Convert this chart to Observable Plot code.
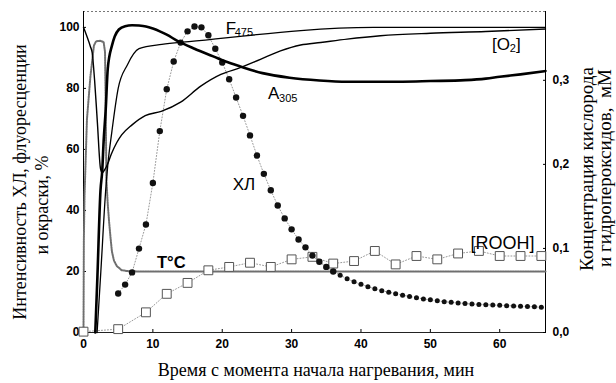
<!DOCTYPE html>
<html><head><meta charset="utf-8">
<script src="https://cdn.jsdelivr.net/npm/d3@7"></script>
<script src="https://cdn.jsdelivr.net/npm/@observablehq/plot@0.6"></script>
<style>html,body{margin:0;padding:0;background:#fff;}</style>
</head><body><div id="chart"></div>
<script>
// ---- Data (time in min) ----
// Temperature curve (left axis units)
const tempT = [0, 0.05, 0.15, 0.5, 1.0, 1.5, 1.8, 2.4, 2.9, 3.1, 3.2, 3.3, 3.5, 3.7, 3.9, 4.1, 4.4, 4.8, 5.5, 6.5, 8, 66.6];
const tempV = [0, 30, 45, 70, 84, 94, 95.4, 95.6, 95.2, 92, 75, 50, 42, 36, 31, 26.5, 23.5, 21.8, 20.4, 20.1, 20, 20];
// A305 (%)
const a305T = [1.7, 2.0, 2.45, 2.7, 2.9, 3.2, 3.5, 4.1, 4.5, 5.1, 6, 7, 8, 9, 10, 11, 12, 13.6, 16, 18.7, 20.5, 22.6, 25.8, 29.7, 34, 38, 42, 46, 50, 55, 58, 60, 63, 66.6];
const a305V = [0, 18, 46.6, 53, 62.6, 73, 86.5, 94, 97, 99.3, 100.4, 100.7, 100.6, 100.3, 99.6, 98.7, 97.6, 95.5, 93, 90.5, 88.8, 87.2, 85, 83.5, 82.6, 82.2, 82.2, 82.2, 82.4, 82.7, 83.2, 83.8, 84.6, 85.7];
// F475 (%)
const f475T = [1.96, 2.5, 3.2, 3.5, 4.1, 5.0, 6.3, 8.0, 11.3, 15.2, 41.8, 66.6];
const f475V = [0, 20, 46.6, 54.8, 66, 80, 87.6, 93, 94.4, 95.3, 100, 100];
// [O2] (mM, right axis)
const o2T = [0, 0.5, 1.0, 1.25, 1.6, 2.0, 2.45, 2.7, 3.0, 3.4, 4.0, 4.8, 5.5, 7, 8.9, 11.2, 14.0, 16.9, 19.8, 22.6, 25.5, 28.4, 31.3, 34.2, 38, 42.8, 50, 58, 66.6];
const o2V = [0.363, 0.352, 0.340, 0.333, 0.300, 0.250, 0.195, 0.190, 0.193, 0.199, 0.212, 0.226, 0.235, 0.247, 0.258, 0.263, 0.274, 0.293, 0.307, 0.315, 0.325, 0.335, 0.342, 0.345, 0.349, 0.353, 0.356, 0.358, 0.361];
// [ROOH] (mM, right axis)
const roohT = [0, 5, 9, 12, 15, 18, 21, 24, 27, 30, 33, 36, 39, 42, 45, 48, 51, 54, 57, 60, 63, 66];
const roohV = [0.001, 0.004, 0.024, 0.046, 0.059, 0.074, 0.078, 0.083, 0.078, 0.087, 0.090, 0.082, 0.085, 0.097, 0.081, 0.091, 0.087, 0.094, 0.097, 0.091, 0.091, 0.091];
// ХЛ chemiluminescence (%)
const clT = [5,6,7,8,9,10,11,12,13,14,15,16,17,18,19,20,21,22,23,24,25,26,27,28,29,30,31,32,33,34,35,36,37,38,39,40,41,42,43,44,45,46,47,48,49,50,51,52,53,54,55,56,57,58,59,60,61,62,63,64,65,66];
const clV = [12.8,15.7,19.7,27.5,35.4,49,66,79.7,88.8,95,98.7,100.3,100,97.4,93,88.5,83,77,71,64.6,58,52,46.6,41.6,37.4,33.8,30.5,27.9,25.2,23.2,21.5,20.0,18.8,17.6,16.6,15.8,15.0,14.3,13.7,13.2,12.7,12.2,11.8,11.4,11.0,10.7,10.4,10.1,9.9,9.7,9.5,9.3,9.2,9.1,9.0,8.9,8.8,8.7,8.6,8.5,8.4,8.3];
// Ticks
const xTicks = [0, 10, 20, 30, 40, 50, 60];
const yTicks = [0, 20, 40, 60, 80, 100];
const rTicks = [0, 0.1, 0.2, 0.3];
// Texts
const leftTitle = ["Интенсивность ХЛ, флуоресценции", "и окраски, %"];
const rightTitle = ["Концентрация кислорода", "и гидропероксидов,  мМ"];
const bottomTitle = "Время с момента начала нагревания, мин";
const mainLabels = [
  {text: "F", t: 20.5, v: 97.9},
  {text: "A", t: 26.6, v: 76.6},
  {text: "[O", t: 58.9, v: 92.7},
  {text: "]", t: 62.35, v: 92.7},
  {text: "ХЛ", t: 21.5, v: 46.8}
];
const roohLabel = [{text: "[ROOH]", t: 55.8, v: 27.5}];
const subLabels = [
  {text: "475", t: 21.8, v: 97.3},
  {text: "305", t: 28.2, v: 75.6},
  {text: "2", t: 61.45, v: 92.0}
];
const tempLabel = [{text: "T°C", t: 10.6, v: 21.0}];

// ---- Build ----
const K = 275.5;          // left-axis units per mM on the right axis
const X_MAX = 66.6, Y_MAX = 105.2;
const zip = (T, V, f = v => v) => T.map((t, i) => ({t, v: f(V[i])}));
const temp = zip(tempT, tempV);
const a305 = zip(a305T, a305V);
const f475 = zip(f475T, f475V);
const o2 = zip(o2T, o2V, v => v * K);
const rooh = zip(roohT, roohV, v => v * K);
const cl = zip(clT, clV);

const serif = "'Liberation Serif', 'Times New Roman', serif";
const sans = "'Liberation Sans', Arial, sans-serif";

const chart = Plot.plot({
  width: 616, height: 383,
  marginLeft: 83, marginRight: 71, marginTop: 11, marginBottom: 51,
  style: {fontFamily: sans, fontSize: "12px", fontWeight: "bold", background: "#fff", color: "#000", overflow: "visible"},
  x: {domain: [0, X_MAX], label: null},
  y: {domain: [0, Y_MAX], label: null},
  marks: [
    Plot.ruleY([Y_MAX], {stroke: "#777", strokeDasharray: "2,2"}),
    Plot.ruleY([0], {stroke: "#222"}),
    Plot.ruleX([0, X_MAX], {stroke: "#000"}),
    Plot.axisX({ticks: xTicks, tickSize: -3, tickPadding: 10, label: null}),
    Plot.axisY({anchor: "left", ticks: yTicks, tickSize: -3, tickPadding: 7, label: null}),
    Plot.axisY({anchor: "right", ticks: rTicks.map(v => v * K), tickFormat: d => (d / K).toFixed(1).replace(".", ","), tickSize: -3, tickPadding: 10, label: null}),
    // temperature
    Plot.line(temp, {x: "t", y: "v", stroke: "#6f6f6f", strokeWidth: 2, strokeDasharray: "1.5,1"}),
    // ROOH
    Plot.line(rooh, {x: "t", y: "v", stroke: "#999", strokeWidth: 1, strokeDasharray: "1,2"}),
    Plot.dot(rooh, {x: "t", y: "v", symbol: "square", r: 5, fill: "#fff", stroke: "#555", strokeWidth: 1}),
    // chemiluminescence
    Plot.line(cl, {x: "t", y: "v", stroke: "#999", strokeWidth: 1, strokeDasharray: "1,2"}),
    Plot.dot(cl, {filter: d => d.t <= 36, x: "t", y: "v", r: 3.2, fill: "#111", stroke: "none"}),
    Plot.dot(cl, {filter: d => d.t > 36, x: "t", y: "v", r: 2.5, fill: "#111", stroke: "none"}),
    // lines
    Plot.line(o2, {x: "t", y: "v", stroke: "#000", strokeWidth: 1.4, curve: "monotone-x"}),
    Plot.line(f475, {x: "t", y: "v", stroke: "#000", strokeWidth: 1.3, curve: "monotone-x"}),
    Plot.line(a305, {x: "t", y: "v", stroke: "#000", strokeWidth: 2.6, curve: "monotone-x"}),
    // labels
    Plot.text(mainLabels, {x: "t", y: "v", text: "text", textAnchor: "start", lineAnchor: "bottom", fontSize: 17, fontWeight: "normal"}),
    Plot.text(roohLabel, {x: "t", y: "v", text: "text", textAnchor: "start", lineAnchor: "bottom", fontSize: 18, fontWeight: "normal"}),
    Plot.text(subLabels, {x: "t", y: "v", text: "text", textAnchor: "start", lineAnchor: "bottom", fontSize: 11, fontWeight: "normal"}),
    Plot.text(tempLabel, {x: "t", y: "v", text: "text", textAnchor: "start", lineAnchor: "bottom", fontSize: 16.5, fontWeight: "bold"})
  ]
});

// Axis titles (serif, as in the original figure)
const svg = d3.select(chart);
const titles = svg.append("g")
  .attr("font-family", serif).attr("font-weight", "normal").attr("fill", "#000")
  .attr("text-anchor", "middle").attr("dominant-baseline", "central");
titles.append("text").attr("font-size", 18).attr("transform", "translate(20,182) rotate(-90)").text(leftTitle[0]);
titles.append("text").attr("font-size", 18).attr("transform", "translate(42,205) rotate(-90)").text(leftTitle[1]);
titles.append("text").attr("font-size", 19).attr("transform", "translate(586,169) rotate(-90)").text(rightTitle[0]);
titles.append("text").attr("font-size", 19).attr("transform", "translate(604,168) rotate(-90)").text(rightTitle[1]);
titles.append("text").attr("font-size", 18).attr("transform", "translate(316,370)").text(bottomTitle);

document.getElementById("chart").appendChild(chart);
</script>
</body></html>
